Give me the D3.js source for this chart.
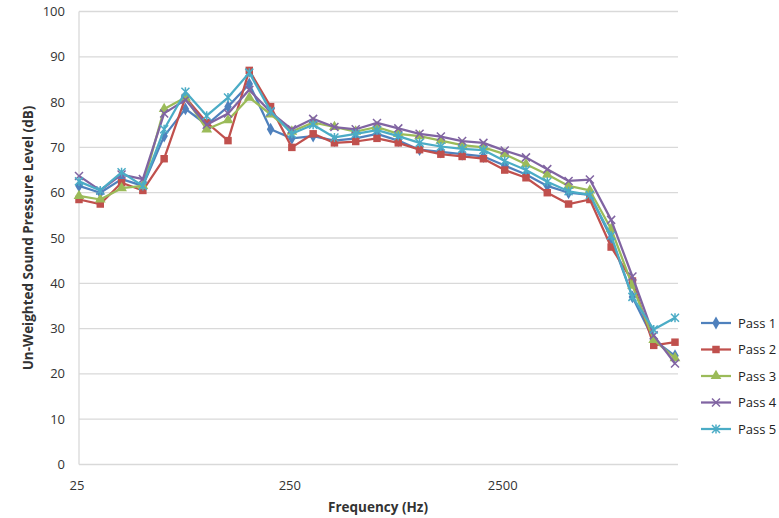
<!DOCTYPE html>
<html>
<head>
<meta charset="utf-8">
<script src="https://cdn.jsdelivr.net/npm/d3@7"></script>
<style>
  html, body { margin: 0; padding: 0; background: #fff; }
  svg { display: block; font-family: "Open Sans", "Liberation Sans", Arial, sans-serif; }
</style>
</head>
<body>
<svg id="chart" width="779" height="518"></svg>
<script>
// One-third-octave band centre frequencies (Hz)
const frequencies = ["25","31.5","40","50","63","80","100","125","160","200","250","315","400","500","630","800","1000","1250","1600","2000","2500","3150","4000","5000","6300","8000","10000","12500","16000"];
const xTickLabels = ["25","250","2500"];
const yTicks = [0,10,20,30,40,50,60,70,80,90,100];

// Un-weighted sound pressure level per pass (dB)
const pass1 = [61.5,60,63,61.5,72.5,78.5,75,79,84,74,72,72.5,71.5,72,73,71.5,69.5,69,68.5,68,66,64,61.5,60,59.5,50,37,27.5,24];
const pass2 = [58.5,57.5,62.2,60.5,67.5,81,75.5,71.5,87,79,70,73,71,71.3,72,71,69.5,68.5,68,67.5,65,63.3,60,57.5,58.5,48,40.5,26.3,27];
const pass3 = [59.3,58.5,61,61.5,78.5,81,74,76,81,77.3,73.5,75.5,74.5,73.5,74.5,73,72.5,71.5,70.5,70,68.5,66.3,64,61.5,60.5,52,39.5,27.5,23.5];
const pass4 = [63.7,60.5,64,63,77.5,80.5,75,77.5,82.7,77.8,74,76.3,74.5,74,75.4,74.2,73,72.4,71.4,71,69.3,67.8,65.2,62.6,62.9,54,41.5,28.5,22.3];
const pass5 = [62.5,60.5,64.5,61.5,74,82.3,77,81,86.5,78,73,75,72.2,73,73.8,72.5,71,70.2,69.7,69.4,67,65,62.4,60.3,59.5,50.5,37,29.8,32.4];

const seriesNames = ["Pass 1","Pass 2","Pass 3","Pass 4","Pass 5"];
const seriesValues = [pass1, pass2, pass3, pass4, pass5];
const colors = ["#4F81BD","#C0504D","#9BBB59","#8064A2","#4BACC6"];
const markerTypes = ["diamond","square","triangle","x","star"];

const svg = d3.select("#chart");
const plot = { left: 79, right: 678, top: 11.5, bottom: 464.5 };

const x = d3.scalePoint().domain(frequencies).range([plot.left, plot.right - 3]);
const y = d3.scaleLinear().domain([0, 100]).range([plot.bottom, plot.top]);

// Horizontal gridlines
svg.append("g").selectAll("line").data(yTicks.filter(v => v > 0)).join("line")
  .attr("x1", plot.left).attr("x2", plot.right)
  .attr("y1", d => y(d)).attr("y2", d => y(d))
  .attr("stroke", "#d9d9d9").attr("stroke-width", 1.3);

// Axis lines
svg.append("line").attr("x1", plot.left).attr("x2", plot.left)
  .attr("y1", plot.top).attr("y2", plot.bottom)
  .attr("stroke", "#d9d9d9").attr("stroke-width", 1.3);
svg.append("line").attr("x1", plot.left).attr("x2", plot.right)
  .attr("y1", plot.bottom).attr("y2", plot.bottom)
  .attr("stroke", "#d9d9d9").attr("stroke-width", 1.3);

// Y tick labels
svg.append("g").selectAll("text").data(yTicks).join("text")
  .attr("x", 65).attr("y", d => y(d)).attr("dy", "0.35em")
  .attr("text-anchor", "end").attr("font-size", 13).attr("fill", "#333")
  .text(d => d);

// X tick labels (every tenth band)
svg.append("g").selectAll("text").data(xTickLabels).join("text")
  .attr("x", d => x(d) - 2).attr("y", 490)
  .attr("text-anchor", "middle").attr("font-size", 13).attr("fill", "#333")
  .text(d => d);

// Axis titles
svg.append("text").attr("x", 378).attr("y", 512)
  .attr("text-anchor", "middle").attr("font-size", 13.5).attr("font-weight", "bold").attr("fill", "#333")
  .text("Frequency (Hz)");
svg.append("text").attr("transform", "translate(33,238) rotate(-90)")
  .attr("text-anchor", "middle").attr("font-size", 13.5).attr("font-weight", "bold").attr("fill", "#333")
  .text("Un-Weighted Sound Pressure Level (dB)");

// Marker drawing
function drawMarker(g, type, color) {
  if (type === "diamond") {
    g.append("path").attr("d", d3.symbol(d3.symbolDiamond, 48)()).attr("fill", color);
  } else if (type === "square") {
    g.append("path").attr("d", d3.symbol(d3.symbolSquare, 56)()).attr("fill", color);
  } else if (type === "triangle") {
    g.append("path").attr("d", d3.symbol(d3.symbolTriangle, 50)()).attr("fill", color);
  } else if (type === "x") {
    g.append("path").attr("d", "M-4,-4L4,4M-4,4L4,-4").attr("stroke", color).attr("stroke-width", 1.5).attr("fill", "none");
  } else {
    g.append("path").attr("d", "M-4,-4L4,4M-4,4L4,-4M0,-4.5L0,4.5").attr("stroke", color).attr("stroke-width", 1.5).attr("fill", "none");
  }
}

const line = d3.line().x((d, i) => x(frequencies[i])).y(d => y(d));

seriesValues.forEach((vals, s) => {
  const g = svg.append("g");
  g.append("path").datum(vals).attr("d", line)
    .attr("fill", "none").attr("stroke", colors[s]).attr("stroke-width", 2.25)
    .attr("stroke-linejoin", "round");
  vals.forEach((v, i) => {
    const m = g.append("g").attr("transform", `translate(${x(frequencies[i])},${y(v)})`);
    drawMarker(m, markerTypes[s], colors[s]);
  });
});

// Legend
const legend = svg.append("g");
seriesNames.forEach((name, s) => {
  const ly = 323 + s * 26.5;
  legend.append("line").attr("x1", 701).attr("x2", 731).attr("y1", ly).attr("y2", ly)
    .attr("stroke", colors[s]).attr("stroke-width", 2.25);
  const m = legend.append("g").attr("transform", `translate(716,${ly})`);
  drawMarker(m, markerTypes[s], colors[s]);
  legend.append("text").attr("x", 738).attr("y", ly).attr("dy", "0.35em")
    .attr("font-size", 13).attr("fill", "#222").text(name);
});
</script>
</body>
</html>
